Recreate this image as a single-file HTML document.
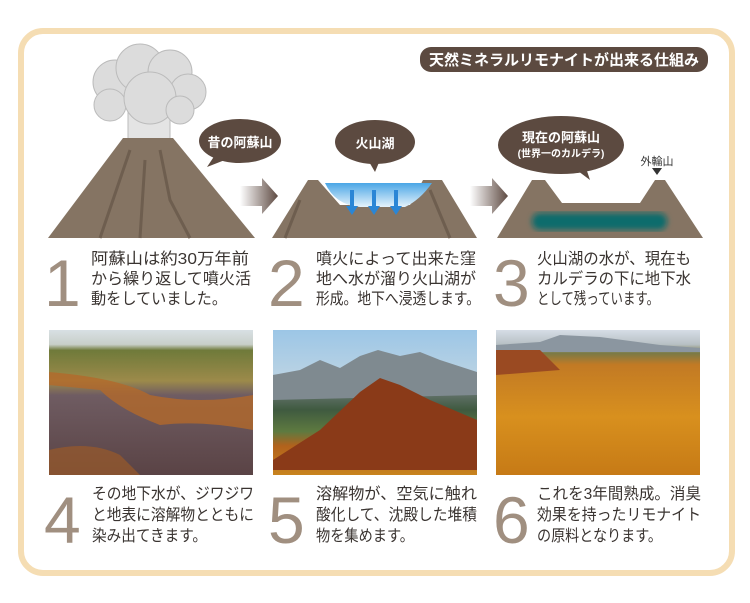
<!DOCTYPE html>
<html><head><meta charset="utf-8"><style>
body{margin:0;background:#fff;}
svg{display:block}
text{font-family:"Liberation Sans","Noto Sans CJK JP",sans-serif;}
</style></head><body>
<svg width="750" height="603" viewBox="0 0 750 603" xmlns="http://www.w3.org/2000/svg">
<defs>
<linearGradient id="lake" x1="0" y1="0" x2="0" y2="1"><stop offset="0" stop-color="#4aa6e6"/><stop offset="1" stop-color="#e6f3fb"/></linearGradient>
<linearGradient id="arr" x1="0" y1="0" x2="1" y2="0"><stop offset="0" stop-color="#fff"/><stop offset="1" stop-color="#5e4a42"/></linearGradient>
<filter id="bl"><feGaussianBlur stdDeviation="3"/></filter>
<linearGradient id="p4" x1="0" y1="0" x2="0" y2="1"><stop offset="0" stop-color="#d8e0e4"/><stop offset=".1" stop-color="#c8cfc8"/><stop offset=".14" stop-color="#6f7a3a"/><stop offset=".35" stop-color="#9c8a4a"/><stop offset=".45" stop-color="#6f5c62"/><stop offset="1" stop-color="#5a4345"/></linearGradient>
<linearGradient id="p5" x1="0" y1="0" x2="0" y2="1"><stop offset="0" stop-color="#9cc6e6"/><stop offset=".3" stop-color="#b8d2e4"/><stop offset=".4" stop-color="#6e7a78"/><stop offset=".55" stop-color="#3f5a40"/><stop offset=".7" stop-color="#5e7a40"/><stop offset=".8" stop-color="#b2621c"/><stop offset="1" stop-color="#c8841e"/></linearGradient>
<linearGradient id="p6" x1="0" y1="0" x2="0" y2="1"><stop offset="0" stop-color="#d6dde6"/><stop offset=".1" stop-color="#b7c0c4"/><stop offset=".16" stop-color="#7a7a46"/><stop offset=".24" stop-color="#c27a24"/><stop offset=".6" stop-color="#d8901e"/><stop offset="1" stop-color="#c67a16"/></linearGradient>
</defs>
<rect x="21" y="31" width="711" height="542" rx="22" fill="#fff" stroke="#f5ddb3" stroke-width="6"/>
<rect x="420" y="47" width="288" height="25" rx="11" fill="#5c4a40"/>
<text x="564" y="65" font-size="15" font-weight="bold" fill="#fff" text-anchor="middle">天然ミネラルリモナイトが出来る仕組み</text>

<!-- volcano 1 -->
<g fill="#dcdcdc" stroke="#bbb" stroke-width="1">
<rect x="128" y="100" width="42" height="42" fill="#e4e4e4"/>
<circle cx="115" cy="82" r="22"/><circle cx="140" cy="68" r="24"/><circle cx="170" cy="72" r="22"/><circle cx="188" cy="92" r="18"/><circle cx="110" cy="105" r="16"/><circle cx="150" cy="98" r="26"/><circle cx="180" cy="110" r="14"/>
</g>
<polygon points="48,238 123,138 173,138 255,238" fill="#857463"/>
<path d="M130,150 L100,238 M160,150 L170,200 L190,238 M145,160 L140,238" stroke="#6e5e4f" stroke-width="3" fill="none"/>
<!-- volcano 2 -->
<polygon points="272,238 308,180 318,180 340,205 410,205 423,180 442,180 477,238" fill="#857463"/>
<path d="M325,183 Q335,205 360,207 L405,207 Q420,200 432,183 Z" fill="url(#lake)"/>
<g fill="#2a86d6"><rect x="350" y="190" width="4" height="18"/><polygon points="346,206 358,206 352,215"/><rect x="372" y="190" width="4" height="18"/><polygon points="368,206 380,206 374,215"/><rect x="394" y="190" width="4" height="18"/><polygon points="390,206 402,206 396,215"/></g>
<path d="M300,200 L285,238 M430,190 L450,238" stroke="#6e5e4f" stroke-width="3" fill="none"/>
<!-- volcano 3 -->
<polygon points="497,238 532,180 545,180 562,203 640,203 655,180 665,180 703,238" fill="#857463"/>
<rect x="532" y="213" width="135" height="17" rx="8" fill="#0e6c6c" filter="url(#bl)"/>
<polygon points="652,168 662,168 657,175" fill="#333"/>
<text x="657" y="165" font-size="11" fill="#333" text-anchor="middle">外輪山</text>
<!-- arrows -->
<polygon points="240,186 262,186 262,178 278,196 262,214 262,206 240,206" fill="url(#arr)"/>
<polygon points="470,186 492,186 492,178 508,196 492,214 492,206 470,206" fill="url(#arr)"/>
<!-- bubbles -->
<g fill="#5c4a40">
<ellipse cx="240" cy="141" rx="41" ry="22"/><polygon points="215,155 230,158 207,167"/>
<ellipse cx="375" cy="142" rx="40" ry="22"/><polygon points="368,160 380,160 375,172"/>
<ellipse cx="561" cy="145" rx="63" ry="29"/><polygon points="570,165 585,165 590,180"/>
</g>
<g fill="#fff" text-anchor="middle" font-weight="bold">
<text x="240" y="147" font-size="13">昔の阿蘇山</text>
<text x="375" y="148" font-size="13">火山湖</text>
<text x="561" y="142" font-size="13">現在の阿蘇山</text>
<text x="561" y="157" font-size="10">(世界一のカルデラ)</text>
</g>

<g fill="#a08f80" font-size="66">
<text x="44" y="306">1</text><text x="268" y="306">2</text><text x="493" y="306">3</text>
<text x="44" y="543">4</text><text x="268" y="543">5</text><text x="493" y="543">6</text>
</g>
<g fill="#3a3431" font-size="16" lengthAdjust="spacingAndGlyphs">
<text x="91" y="264" textLength="158" lengthAdjust="spacingAndGlyphs">阿蘇山は約30万年前</text><text x="91" y="284" textLength="160" lengthAdjust="spacingAndGlyphs">から繰り返して噴火活</text><text x="91" y="304" textLength="136" lengthAdjust="spacingAndGlyphs">動をしていました。</text>
<text x="316" y="264" textLength="160" lengthAdjust="spacingAndGlyphs">噴火によって出来た窪</text><text x="316" y="284" textLength="160" lengthAdjust="spacingAndGlyphs">地へ水が溜り火山湖が</text><text x="316" y="304" textLength="164" lengthAdjust="spacingAndGlyphs">形成。地下へ浸透します。</text>
<text x="537" y="264" textLength="154" lengthAdjust="spacingAndGlyphs">火山湖の水が、現在も</text><text x="537" y="284" textLength="154" lengthAdjust="spacingAndGlyphs">カルデラの下に地下水</text><text x="537" y="304" textLength="122" lengthAdjust="spacingAndGlyphs">として残っています。</text>
<text x="92" y="499" textLength="162" lengthAdjust="spacingAndGlyphs">その地下水が、ジワジワ</text><text x="92" y="520" textLength="162" lengthAdjust="spacingAndGlyphs">と地表に溶解物とともに</text><text x="92" y="541" textLength="115" lengthAdjust="spacingAndGlyphs">染み出てきます。</text>
<text x="316" y="499" textLength="161" lengthAdjust="spacingAndGlyphs">溶解物が、空気に触れ</text><text x="316" y="520" textLength="161" lengthAdjust="spacingAndGlyphs">酸化して、沈殿した堆積</text><text x="316" y="541" textLength="98" lengthAdjust="spacingAndGlyphs">物を集めます。</text>
<text x="537" y="499" textLength="164" lengthAdjust="spacingAndGlyphs">これを3年間熟成。消臭</text><text x="537" y="520" textLength="164" lengthAdjust="spacingAndGlyphs">効果を持ったリモナイト</text><text x="537" y="541" textLength="125" lengthAdjust="spacingAndGlyphs">の原料となります。</text>
</g>

<!-- photos -->
<rect x="49" y="330" width="204" height="145" fill="url(#p4)"/>
<path d="M49,372 Q120,378 150,395 Q200,405 253,395 L253,430 Q200,420 160,425 Q120,410 100,390 L49,385Z" fill="#b3692a" opacity=".8"/>
<path d="M49,450 Q90,440 120,455 L140,475 L49,475Z" fill="#9a5a2a" opacity=".7"/>
<rect x="273" y="330" width="204" height="145" fill="url(#p5)"/>
<polygon points="273,375 300,370 320,360 340,368 360,356 378,350 400,356 420,352 440,360 477,372 477,395 273,400" fill="#7f8a90"/>
<polygon points="273,460 320,430 360,392 380,378 400,385 430,400 477,420 477,470 273,470" fill="#8a3a18"/>
<rect x="496" y="330" width="204" height="145" fill="url(#p6)"/>
<polygon points="496,345 540,342 560,335 600,337 660,345 700,348 700,352 496,352" fill="#8b96a0"/>
<polygon points="496,350 540,350 560,370 496,375" fill="#9a4a22"/>
</svg>
</body></html>
